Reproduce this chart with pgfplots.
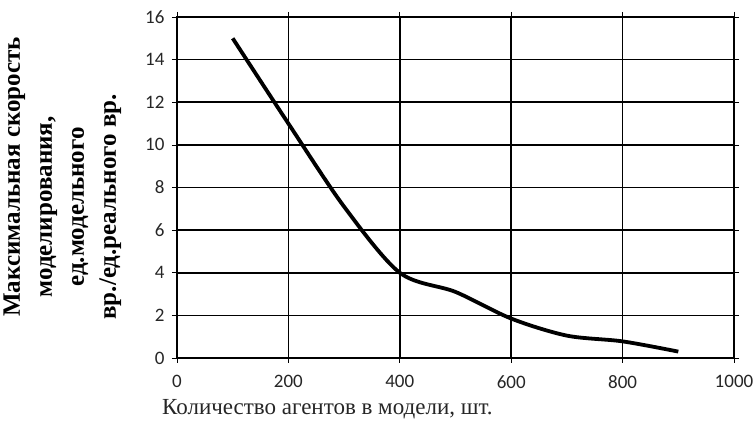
\documentclass[border=0pt]{standalone}
\usepackage{pgfplots}
\pgfplotsset{compat=1.18}
\usepackage{fontspec}
\setmainfont{Liberation Serif}
\newfontfamily\tickfont{Carlito}

\begin{document}
\begin{tikzpicture}
\useasboundingbox (-177pt,-80pt) rectangle (578pt,358pt);
\begin{axis}[
  scale only axis,
  width=557pt, height=341pt,
  xmin=0, xmax=1000, ymin=0, ymax=16,
  xtick={0,200,...,1000},
  ytick={0,2,...,16},
  grid=major,
  grid style={black, line width=1.7pt},
  axis line style={black, line width=2.8pt},
  tick align=outside,
  tick style={black, line width=0.6pt},
  major tick length=5pt,
  /pgf/number format/1000 sep={},
  /pgf/number format/assume math mode=true,
  ticklabel style={font=\tickfont\fontsize{19}{19}\selectfont, text=black!85},
  xticklabel style={yshift=-9pt},
  yticklabel style={xshift=-4pt},
  xlabel={Количество агентов в модели, шт.},
  xlabel style={font=\fontsize{23}{25}\selectfont, text=black!85,
    at={(axis description cs:0.27,0)}, anchor=north, yshift=-38pt},
  ylabel={\hspace*{60pt}Максимальная скорость\\моделирования,\\ед.модельного\\вр./ед.реального вр.},
  ylabel style={font=\bfseries\fontsize{25}{32}\selectfont, align=center,
    at={(axis description cs:-0.094,0.443)}, anchor=south},
]
\addplot[black, line width=3.8pt, smooth] coordinates {
  (100,15) (200,11) (300,7.1) (400,4) (500,3.1)
  (600,1.85) (700,1.05) (800,0.78) (900,0.3)
};
\end{axis}
\end{tikzpicture}
\end{document}
